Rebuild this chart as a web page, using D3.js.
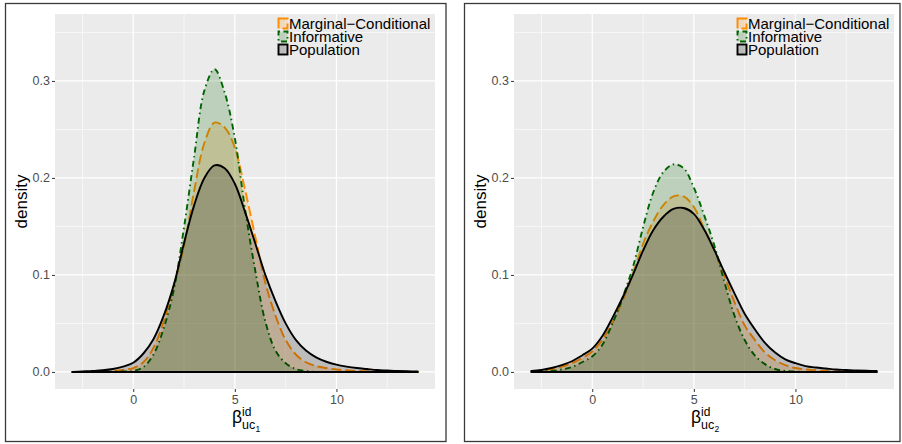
<!DOCTYPE html>
<html>
<head>
<meta charset="UTF-8">
<script src="https://d3js.org/d3.v7.min.js"></script>
<style>
  body { margin: 0; background: #fff; }
  text { font-family: "Liberation Sans", Arial, Helvetica, sans-serif; }
</style>
</head>
<body>
<div id="chart"></div>
<script>
// grid of beta values the densities were read at (step 0.5)
const xs = [-3, -2.5, -2, -1.5, -1, -0.5, 0, 0.5, 1, 1.5, 2, 2.5, 3, 3.5, 4, 4.5, 5, 5.5, 6, 6.5,
            7, 7.5, 8, 8.5, 9, 9.5, 10, 10.5, 11, 11.5, 12, 12.5, 13, 13.5, 14];

// left panel (uc1)
const mc1  = [0, 0, 0.0002, 0.0005, 0.001, 0.002, 0.004, 0.01, 0.025, 0.052, 0.089, 0.13, 0.187, 0.236, 0.257, 0.252, 0.231, 0.188, 0.14, 0.092,
              0.058, 0.033, 0.018, 0.01, 0.006, 0.004, 0.0025, 0.0017, 0.001, 0.0007, 0.0005, 0.0003, 0, 0, 0];
const inf1 = [0, 0, 0, 0, 0.0002, 0.0005, 0.001, 0.005, 0.018, 0.045, 0.085, 0.149, 0.222, 0.29, 0.312, 0.288, 0.241, 0.168, 0.105, 0.052,
              0.022, 0.009, 0.003, 0.001, 0, 0, 0, 0, 0, 0, 0, 0, 0, 0, 0];
const pop1 = [0, 0.0005, 0.001, 0.0017, 0.003, 0.0055, 0.0095, 0.019, 0.034, 0.058, 0.09, 0.133, 0.172, 0.2, 0.213, 0.21, 0.194, 0.165, 0.133, 0.1,
              0.073, 0.05, 0.033, 0.022, 0.015, 0.0105, 0.0075, 0.0055, 0.004, 0.003, 0.002, 0.0015, 0.001, 0.0007, 0.0005];

// right panel (uc2)
const mc2  = [0.0005, 0.0015, 0.003, 0.0055, 0.009, 0.014, 0.021, 0.033, 0.051, 0.074, 0.101, 0.132, 0.155, 0.172, 0.181, 0.181, 0.17, 0.148, 0.126, 0.099,
              0.072, 0.048, 0.033, 0.02, 0.012, 0.007, 0.004, 0.0025, 0.0017, 0.001, 0.0007, 0.0005, 0.0003, 0.0001, 0];
const inf2 = [0, 0.0005, 0.001, 0.0025, 0.005, 0.01, 0.016, 0.028, 0.05, 0.077, 0.108, 0.149, 0.185, 0.206, 0.214, 0.21, 0.19, 0.162, 0.131, 0.093,
              0.058, 0.033, 0.017, 0.008, 0.003, 0.001, 0.0005, 0, 0, 0, 0, 0, 0, 0, 0];
const pop2 = [0.001, 0.002, 0.004, 0.007, 0.011, 0.017, 0.024, 0.037, 0.056, 0.077, 0.1, 0.125, 0.146, 0.16, 0.168, 0.169, 0.163, 0.147, 0.126, 0.103,
              0.081, 0.06, 0.044, 0.03, 0.02, 0.013, 0.009, 0.006, 0.0045, 0.0035, 0.0025, 0.002, 0.0015, 0.0012, 0.001];

const groups = ["Marginal\u2212Conditional", "Informative", "Population"];
const xTicks = [0, 5, 10];
const yTicks = [0, 0.1, 0.2, 0.3];

const colors = {"Marginal\u2212Conditional": "#ff8c00", "Informative": "#006400", "Population": "#000000"};
const dashes = {"Marginal\u2212Conditional": "10,4", "Informative": "1.5,3.5,6,3.5", "Population": null};

const W = 902, H = 444;
const svg = d3.select("#chart").append("svg")
    .attr("width", W).attr("height", H);

const plot = {left: 55, right: 435, top: 14, bottom: 389};

function drawPanel(dx, boxRight, series, sub) {
    const g = svg.append("g").attr("transform", `translate(${dx},0)`);

    // outer frame
    g.append("rect")
        .attr("x", 5.5).attr("y", 3.5)
        .attr("width", boxRight - dx - 5.5).attr("height", 438)
        .attr("fill", "none").attr("stroke", "#3a3a3a").attr("stroke-width", 1.3);

    const x = d3.scaleLinear().domain([-3.85, 14.85]).range([plot.left, plot.right]);
    const y = d3.scaleLinear().domain([-0.0176, 0.369]).range([plot.bottom, plot.top]);

    g.append("rect")
        .attr("x", plot.left).attr("y", plot.top)
        .attr("width", plot.right - plot.left).attr("height", plot.bottom - plot.top)
        .attr("fill", "#ebebeb");

    // minor grid
    g.append("g").selectAll("line").data([-2.5, 2.5, 7.5, 12.5]).join("line")
        .attr("x1", d => x(d)).attr("x2", d => x(d))
        .attr("y1", plot.top).attr("y2", plot.bottom)
        .attr("stroke", "#fff").attr("stroke-width", 0.6);
    g.append("g").selectAll("line").data([0.05, 0.15, 0.25, 0.35]).join("line")
        .attr("y1", d => y(d)).attr("y2", d => y(d))
        .attr("x1", plot.left).attr("x2", plot.right)
        .attr("stroke", "#fff").attr("stroke-width", 0.6);
    // major grid
    g.append("g").selectAll("line").data(xTicks).join("line")
        .attr("x1", d => x(d)).attr("x2", d => x(d))
        .attr("y1", plot.top).attr("y2", plot.bottom)
        .attr("stroke", "#fff").attr("stroke-width", 1.2);
    g.append("g").selectAll("line").data(yTicks).join("line")
        .attr("y1", d => y(d)).attr("y2", d => y(d))
        .attr("x1", plot.left).attr("x2", plot.right)
        .attr("stroke", "#fff").attr("stroke-width", 1.2);

    // density areas
    const area = d3.area()
        .x((d, i) => x(xs[i]))
        .y0(y(0))
        .y1(d => y(d))
        .curve(d3.curveCatmullRom.alpha(0.5));

    groups.forEach(k => {
        g.append("path")
            .datum(series[k])
            .attr("d", d => area(d) + "Z")
            .attr("fill", colors[k]).attr("fill-opacity", 0.2)
            .attr("stroke", colors[k]).attr("stroke-width", 1.9)
            .attr("stroke-dasharray", dashes[k])
            .attr("stroke-linejoin", "round");
    });

    // axes
    const xa = g.append("g").attr("transform", `translate(0,${plot.bottom})`)
        .call(d3.axisBottom(x).tickValues(xTicks).tickSize(3).tickPadding(3).tickFormat(d3.format("d")));
    const ya = g.append("g").attr("transform", `translate(${plot.left},0)`)
        .call(d3.axisLeft(y).tickValues(yTicks).tickSize(3).tickPadding(2).tickFormat(d3.format(".1f")));
    [xa, ya].forEach(a => {
        a.select(".domain").remove();
        a.selectAll(".tick line").attr("stroke", "#333").attr("stroke-width", 1);
        a.selectAll(".tick text").attr("fill", "#4d4d4d").style("font-size", "12.5px")
            .style("font-family", "'Liberation Sans', Arial, sans-serif");
    });

    // axis titles
    g.append("text")
        .attr("transform", `translate(27,${(plot.top + plot.bottom) / 2}) rotate(-90)`)
        .attr("text-anchor", "middle")
        .style("font-size", "17px")
        .text("density");

    const cx = (plot.left + plot.right) / 2;
    g.append("text").attr("x", cx - 13).attr("y", 423).style("font-size", "17.5px").text("\u03b2");
    g.append("text").attr("x", cx - 3).attr("y", 415.5).style("font-size", "12px").text("id");
    g.append("text").attr("x", cx - 3).attr("y", 428.5).style("font-size", "12.5px").text("uc");
    g.append("text").attr("x", cx + 10.5).attr("y", 431.5).style("font-size", "8.5px").text(sub);

    // legend
    const leg = g.append("g").attr("transform", "translate(278,18)");
    groups.forEach((k, i) => {
        const row = leg.append("g").attr("transform", `translate(0,${i * 13})`);
        row.append("rect")
            .attr("x", 0.5).attr("y", 0.5).attr("width", 9).attr("height", 10)
            .attr("fill", colors[k]).attr("fill-opacity", 0.2)
            .attr("stroke", colors[k]).attr("stroke-width", 1.9)
            .attr("stroke-dasharray", dashes[k]);
        row.append("text")
            .attr("x", 11).attr("y", 10.5)
            .style("font-size", "15px")
            .text(k);
    });
}

drawPanel(0, 446, {"Marginal\u2212Conditional": mc1, "Informative": inf1, "Population": pop1}, "1");
drawPanel(459, 900, {"Marginal\u2212Conditional": mc2, "Informative": inf2, "Population": pop2}, "2");
</script>
</body>
</html>
